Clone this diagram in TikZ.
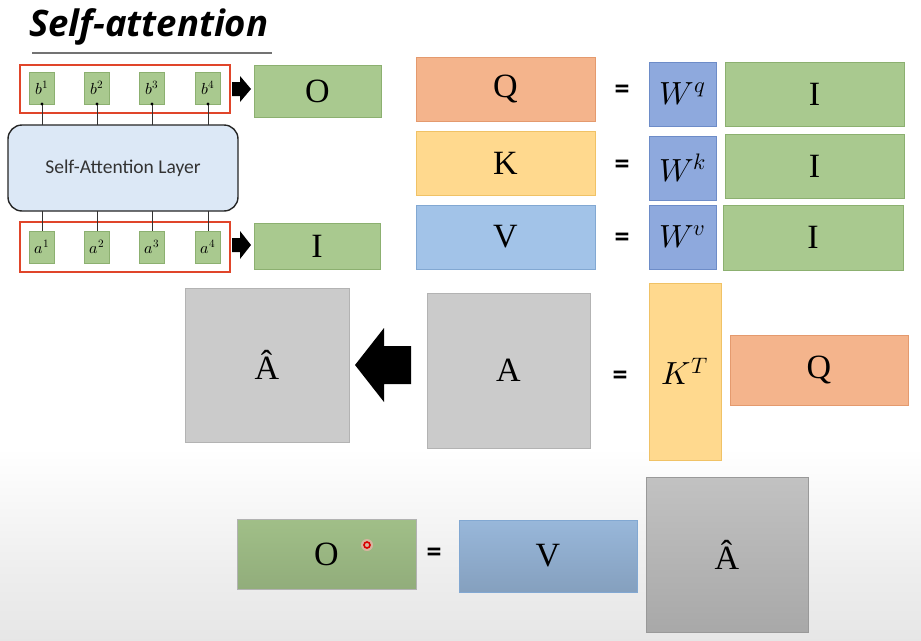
\documentclass[tikz,border=0pt]{standalone}
\usepackage{fontspec}
\usepackage{unicode-math}
\newfontfamily\carlito{Carlito}
\newfontfamily\opensans{Open Sans}
\newfontfamily\matserif{Liberation Serif}
\usetikzlibrary{calc}
\definecolor{gfill}{HTML}{A9C98F}
\definecolor{gline}{HTML}{8CB070}
\definecolor{ofill}{HTML}{F4B48C}
\definecolor{oline}{HTML}{E49A6E}
\definecolor{yfill}{HTML}{FFD98E}
\definecolor{yline}{HTML}{F0C266}
\definecolor{vfill}{HTML}{A2C3E8}
\definecolor{vline}{HTML}{82A8D2}
\definecolor{wfill}{HTML}{8EA9DD}
\definecolor{wline}{HTML}{6D8CC8}
\definecolor{afill}{HTML}{CBCBCB}
\definecolor{aline}{HTML}{B3B3B3}
\definecolor{redb}{HTML}{E0452A}
\definecolor{salfill}{HTML}{DCE8F6}
\pgfdeclareverticalshading{bgshade}{100bp}{color(0bp)=(black!20); color(15bp)=(black!15); color(30bp)=(black!7); color(40bp)=(white); color(100bp)=(white)}
\tikzset{
  mat/.style={draw, line width=0.8pt, inner sep=0pt, outer sep=0pt, anchor=north west,
              font=\matserif\fontsize{34}{38}\selectfont},
  grn/.style={mat, fill=gfill, draw=gline},
  org/.style={mat, fill=ofill, draw=oline},
  yel/.style={mat, fill=yfill, draw=yline},
  blu/.style={mat, fill=vfill, draw=vline},
  wbl/.style={mat, fill=wfill, draw=wline},
  gry/.style={mat, fill=afill, draw=aline},
  vec/.style={draw=gline, fill=gfill, line width=0.5pt, inner sep=0pt, outer sep=0pt,
              minimum width=25, minimum height=32, font=\fontsize{16}{18}\selectfont},
  redframe/.style={draw=redb, line width=2.8pt, inner sep=0pt, outer sep=0pt, anchor=north west},
  eqsign/.style={font=\carlito\bfseries\fontsize{30}{32}\selectfont, inner sep=0pt},
  conn/.style={line width=0.7pt, draw=black!80},
  blockarrow/.style={fill=black},
}
\begin{document}
\begin{tikzpicture}[x=1pt, y=-1pt]
\useasboundingbox (0,0) rectangle (921,640);
\fill[shading=bgshade] (0,0) rectangle (921,640);

% title
\node[anchor=south west, inner sep=0pt, font=\opensans\bfseries\itshape\fontsize{36.5}{40}\selectfont] (title) at (29,45) {Self-attention};
\draw[black!55, line width=1.6pt] (32,53) -- (272,53);

% top red frame with b vectors
\node[redframe, minimum width=210, minimum height=48] (topframe) at (20,65) {};
\node[vec] (b1) at (42,88) {$b^1$};
\node[vec] (b2) at (97,88) {$b^2$};
\node[vec] (b3) at (152,88) {$b^3$};
\node[vec] (b4) at (208,88) {$b^4$};

% self-attention layer
\node[draw=black!85, line width=1.4pt, fill=salfill, rounded corners=14pt, minimum width=230, minimum height=86,
      anchor=north west, inner sep=0pt, outer sep=0pt, font=\carlito\fontsize{19.5}{22}\selectfont, text=black!80] (sal) at (8,125) {Self-Attention Layer};

% bottom red frame with a vectors
\node[redframe, minimum width=210, minimum height=50] (botframe) at (20,222) {};
\node[vec] (a1) at (42,247) {$a^1$};
\node[vec] (a2) at (97,247) {$a^2$};
\node[vec] (a3) at (152,247) {$a^3$};
\node[vec] (a4) at (208,247) {$a^4$};

\foreach \i in {1,2,3,4}{
  \draw[conn] (b\i.south) -- (b\i.south |- sal.north);
  \fill (b\i.south) circle (1.6);
  \draw[conn] (a\i.north |- sal.south) -- (a\i.north);
}

% O and I boxes
\node[grn, minimum width=127, minimum height=52] (O1) at (254,65) {O};
\node[grn, minimum width=126, minimum height=46] (I0) at (254,223) {I};

% small block arrows
\fill[blockarrow] (232,82) -- (240,82) -- (240,76) -- (251,89) -- (240,102) -- (240,96) -- (232,96) -- cycle;
\fill[blockarrow] (232,238) -- (240,238) -- (240,231) -- (251,245) -- (240,259) -- (240,252) -- (232,252) -- cycle;

% Q K V = W I
\node[org, minimum width=179, minimum height=64] (Q) at (416,57) {Q};
\node[eqsign] (eq1) at (622,92) {=};
\node[wbl, minimum width=67, minimum height=64, font=\fontsize{32}{36}\selectfont] (Wq) at (649,62) {$W^q$};
\node[grn, minimum width=179, minimum height=64] (I1) at (725,62) {I};

\node[yel, minimum width=179, minimum height=64] (K) at (416,131) {K};
\node[eqsign] (eq2) at (622,167) {=};
\node[wbl, minimum width=67, minimum height=64, font=\fontsize{32}{36}\selectfont] (Wk) at (649,136) {$W^k$};
\node[grn, minimum width=179, minimum height=64] (I2) at (725,134) {I};

\node[blu, minimum width=179, minimum height=64] (V) at (416,205) {V};
\node[eqsign] (eq3) at (622,240) {=};
\node[wbl, minimum width=67, minimum height=64, font=\fontsize{32}{36}\selectfont] (Wv) at (649,205) {$W^v$};
\node[grn, minimum width=180, minimum height=65] (I3) at (723,205) {I};

% A-hat <= A = K^T Q
\node[gry, minimum width=164, minimum height=154] (Ahat1) at (185,288) {\^{A}};
\node[gry, minimum width=163, minimum height=155] (A) at (427,293) {A};
\fill[blockarrow] (411,346) -- (384,346) -- (384,328) -- (355,365) -- (384,402) -- (384,384) -- (411,384) -- cycle;
\node[eqsign] (eq4) at (620,378) {=};
\node[yel, minimum width=72, minimum height=177, font=\fontsize{32}{36}\selectfont] (KT) at (649,283) {$K^T$};
\node[org, minimum width=178, minimum height=70] (Q2) at (730,335) {Q};

% O = V A-hat
\node[mat, draw=black!30, top color=gfill!95!black, bottom color=gfill!86!black, minimum width=179, minimum height=70] (O2) at (237,519) {O};
\node[eqsign] (eq5) at (434,555) {=};
\node[mat, draw=vline, top color=vfill!94!black, bottom color=vfill!82!black, minimum width=178, minimum height=72] (V2) at (459,520) {V};
\node[mat, draw=black!40, top color=black!24, bottom color=black!34, minimum width=162, minimum height=155] (Ahat2) at (646,477) {\^{A}};

% pointer dot
\fill[red!30, opacity=0.6] (367,545) circle (6);
\draw[red!85!black, line width=1.6pt] (367,545) circle (3);
\end{tikzpicture}
\end{document}
